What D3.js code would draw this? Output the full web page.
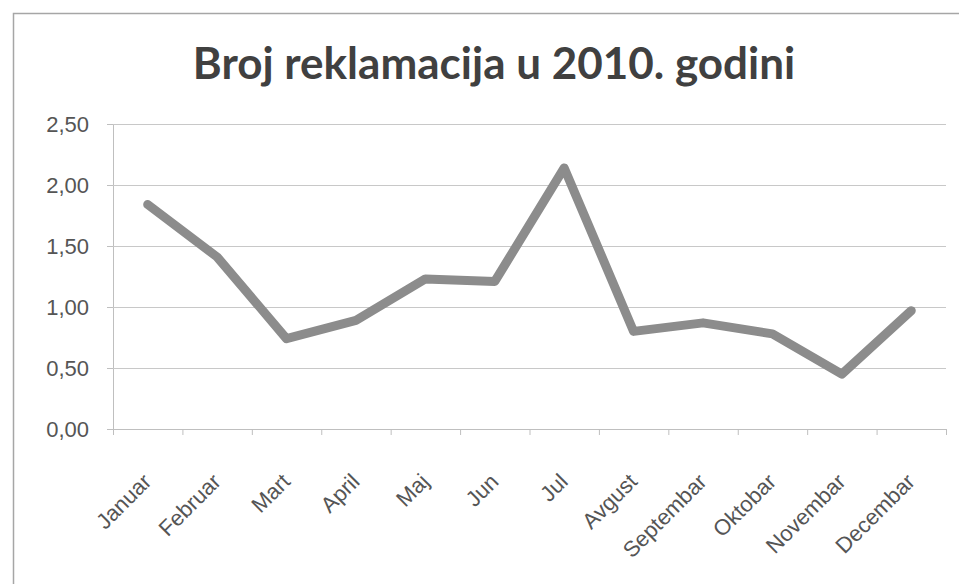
<!DOCTYPE html>
<html>
<head>
<meta charset="utf-8">
<script src="https://cdn.jsdelivr.net/npm/d3@7"></script>
<style>
  body { margin: 0; background: #fff; }
  svg { display: block; font-family: Lato, "Open Sans", sans-serif; }
</style>
</head>
<body>
<div id="chart"></div>
<script>
// Chart data
var months = ["Januar", "Februar", "Mart", "April", "Maj", "Jun", "Jul",
  "Avgust", "Septembar", "Oktobar", "Novembar", "Decembar"];
var complaints = [1.84, 1.41, 0.74, 0.89, 1.23, 1.21, 2.14, 0.80, 0.87, 0.78, 0.45, 0.97];
var yTickValues = [0, 0.5, 1, 1.5, 2, 2.5];
var chartTitle = "Broj reklamacija u 2010. godini";

var W = 959, H = 584;
var margin = { top: 124, right: 13, bottom: 155, left: 113 };
var width = W - margin.left - margin.right;
var height = H - margin.top - margin.bottom;

// decimal comma like the original
var locale = d3.formatLocale({ decimal: ",", thousands: ".", grouping: [3], currency: ["", ""] });
var fmt = locale.format(".2f");

var svg = d3.select("#chart")
  .append("svg")
  .attr("width", W)
  .attr("height", H);

// outer chart border
svg.append("rect")
  .attr("x", 13.5)
  .attr("y", 13.5)
  .attr("width", W + 20)
  .attr("height", H + 20)
  .style("fill", "none")
  .style("stroke", "#a6a6a6")
  .style("stroke-width", 1.5);

svg.append("text")
  .attr("x", 494)
  .attr("y", 79)
  .attr("text-anchor", "middle")
  .style("font-size", "44px")
  .style("font-weight", "bold")
  .style("fill", "#404040")
  .text(chartTitle);

var g = svg.append("g")
  .attr("transform", "translate(" + margin.left + "," + margin.top + ")");

var xScale = d3.scaleBand()
  .domain(months)
  .range([0, width])
  .padding(0);

var yScale = d3.scaleLinear()
  .domain([0, 2.5])
  .range([height, 0]);

// gridlines + y axis
var yAxis = g.append("g")
  .attr("class", "y-axis")
  .call(d3.axisLeft(yScale).tickValues(yTickValues).tickFormat(fmt).tickSize(6).tickPadding(18));
yAxis.select(".domain").style("stroke", "#bfbfbf");
yAxis.selectAll(".tick line").style("stroke", "#bfbfbf");
yAxis.selectAll(".tick text")
  .style("font-size", "22px")
  .style("fill", "#555");

g.append("g")
  .attr("class", "grid")
  .call(d3.axisLeft(yScale).tickValues(yTickValues.slice(1)).tickFormat("").tickSize(-width))
  .call(function (s) { s.select(".domain").remove(); })
  .selectAll(".tick line")
  .style("stroke", "#c8c8c8");

// x axis: labels at band centers, tick marks on the band edges
var xAxis = g.append("g")
  .attr("class", "x-axis")
  .attr("transform", "translate(0," + height + ")")
  .call(d3.axisBottom(xScale).tickSize(0));
xAxis.select(".domain").style("stroke", "#bfbfbf");
xAxis.selectAll(".tick text")
  .attr("x", 0)
  .attr("y", 0)
  .attr("dy", 0)
  .attr("text-anchor", "end")
  .attr("transform", "translate(5,54) rotate(-45)")
  .style("font-size", "22px")
  .style("fill", "#555");

var edgeScale = d3.scaleLinear().domain([0, months.length]).range([0, width]);
g.append("g")
  .attr("transform", "translate(0," + height + ")")
  .call(d3.axisBottom(edgeScale).tickValues(d3.range(months.length + 1)).tickFormat("").tickSize(6))
  .call(function (s) { s.select(".domain").remove(); })
  .selectAll(".tick line")
  .style("stroke", "#bfbfbf");

// the series line
var line = d3.line()
  .x(function (d, i) { return xScale(months[i]) + xScale.bandwidth() / 2; })
  .y(function (d) { return yScale(d); });

g.append("path")
  .datum(complaints)
  .attr("d", line)
  .style("fill", "none")
  .style("stroke", "#8c8c8c")
  .style("stroke-width", 9)
  .style("stroke-linejoin", "round")
  .style("stroke-linecap", "round");
</script>
</body>
</html>
